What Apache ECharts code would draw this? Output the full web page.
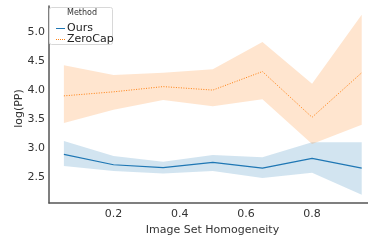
<!DOCTYPE html>
<html>
<head>
<meta charset="utf-8">
<script src="https://cdn.jsdelivr.net/npm/echarts@6/dist/echarts.min.js"></script>
<style>
  html, body { margin: 0; padding: 0; background: #fff; }
  #chart { width: 368px; height: 241px; }
</style>
</head>
<body>
<div id="chart"></div>
<script>
// homogeneity values on the x axis
var xs = [0.05, 0.2, 0.35, 0.5, 0.65, 0.8, 0.95];

// Ours
var oursMean = [2.89, 2.71, 2.66, 2.75, 2.65, 2.82, 2.65];
var oursLow  = [2.69, 2.60, 2.56, 2.60, 2.48, 2.57, 2.19];
var oursHigh = [3.12, 2.86, 2.76, 2.88, 2.84, 3.10, 3.10];

// ZeroCap
var zcMean = [3.90, 3.97, 4.06, 4.00, 4.32, 3.53, 4.30];
var zcLow  = [3.43, 3.66, 3.83, 3.72, 3.84, 3.07, 3.40];
var zcHigh = [4.43, 4.26, 4.30, 4.36, 4.83, 4.11, 5.30];

var xTicks = [0.2, 0.4, 0.6, 0.8];
var yTicks = [2.5, 3.0, 3.5, 4.0, 4.5, 5.0];

var blue = "#1f77b4";
var orange = "#ff7f0e";

function pairs(a) {
  return xs.map(function (x, i) { return [x, a[i]]; });
}

// confidence band drawn as one polygon
function band(low, high, color) {
  return {
    type: "custom",
    silent: true,
    data: [0],
    renderItem: function (params, api) {
      var pts = [];
      for (var i = 0; i < xs.length; i++) pts.push(api.coord([xs[i], high[i]]));
      for (var j = xs.length - 1; j >= 0; j--) pts.push(api.coord([xs[j], low[j]]));
      return {
        type: "polygon",
        shape: { points: pts },
        style: { fill: color }
      };
    },
    z: 1
  };
}

var chart = echarts.init(document.getElementById("chart"));
var option = {
  animation: false,
  grid: { left: 49, right: 0, top: 6, bottom: 32 },
  xAxis: {
    type: "value",
    min: 0.005,
    max: 0.969,
    name: "Image Set Homogeneity",
    nameLocation: "middle",
    nameGap: 19,
    nameTextStyle: { fontFamily: "DejaVu Sans", fontSize: 11, color: "#333", padding: [0, 0, 0, 8] },
    axisLine: { lineStyle: { color: "#555", width: 1.5 } },
    axisTick: { show: false },
    splitLine: { show: false },
    axisLabel: {
      customValues: xTicks,
      fontFamily: "DejaVu Sans", fontSize: 11, color: "#333", margin: 6,
      formatter: function (v) { return v.toFixed(1); }
    }
  },
  yAxis: {
    type: "value",
    min: 2.047,
    max: 5.453,
    name: "log(PP)",
    nameLocation: "middle",
    nameGap: 24,
    nameRotate: 90,
    nameMoveOverlap: false,
    nameTextStyle: { fontFamily: "DejaVu Sans", fontSize: 11, color: "#333", padding: [0, 8, 0, 0] },
    axisLine: { show: true, lineStyle: { color: "#555", width: 1.5 } },
    axisTick: { show: false },
    splitLine: { show: false },
    axisLabel: {
      customValues: yTicks,
      fontFamily: "DejaVu Sans", fontSize: 11, color: "#333", margin: 4,
      formatter: function (v) { return v.toFixed(1); }
    }
  },
  legend: {
    orient: "vertical",
    left: 51,
    top: 18,
    z: 100,
    itemWidth: 9,
    itemHeight: 1,
    itemGap: 0,
    textStyle: { fontFamily: "DejaVu Sans", fontSize: 11, color: "#222", padding: [0, 0, 0, -3] },
    data: [
      { name: "Ours", icon: "rect" },
      { name: "ZeroCap", icon: "path://M0,0h1v1h-1zM2,0h1v1h-1zM4,0h1v1h-1zM6,0h1v1h-1zM8,0h1v1h-1z" }
    ]
  },
  graphic: [
    {
      type: "rect",
      left: 49, top: 7,
      shape: { width: 63, height: 37, r: 2 },
      style: { fill: "rgba(255,255,255,0.8)", stroke: "#d8d8d8", lineWidth: 1 },
      z: 90
    },
    {
      type: "text",
      left: 67, top: 9,
      style: { text: "Method", fontFamily: "DejaVu Sans", fontSize: 8, fill: "#333" },
      z: 91
    }
  ],
  series: [
    band(oursLow, oursHigh, "rgba(31,119,180,0.2)"),
    {
      name: "Ours",
      type: "line",
      data: pairs(oursMean),
      symbol: "none",
      lineStyle: { color: blue, width: 1.2 },
      itemStyle: { color: blue },
      z: 3
    },
    band(zcLow, zcHigh, "rgba(255,127,14,0.2)"),
    {
      name: "ZeroCap",
      type: "line",
      data: pairs(zcMean),
      symbol: "none",
      lineStyle: { color: orange, width: 1, type: [1, 1.5] },
      itemStyle: { color: orange },
      z: 3
    }
  ]
};
chart.setOption(option);
</script>
</body>
</html>
